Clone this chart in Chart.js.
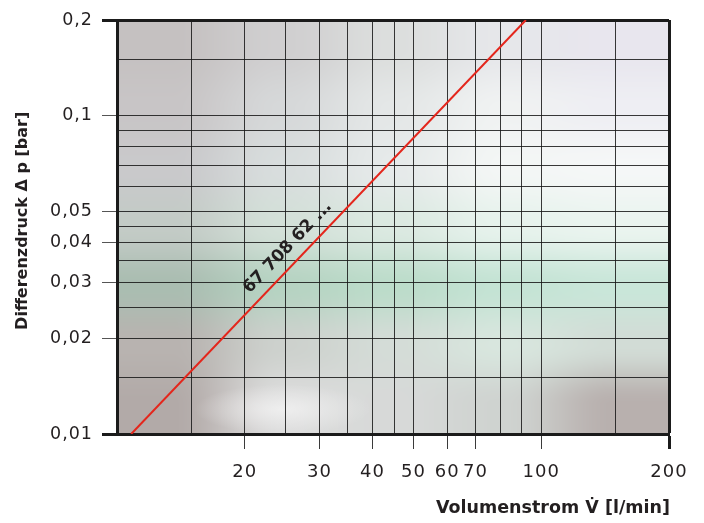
<!DOCTYPE html>
<html>
<head>
<meta charset="utf-8">
<script src="https://cdn.jsdelivr.net/npm/chart.js@4/dist/chart.umd.min.js"></script>
<style>
  html, body { margin: 0; padding: 0; background: #ffffff; }
  #wrap { width: 704px; height: 523px; }
</style>
</head>
<body>
<div id="wrap"><canvas id="c" width="704" height="523"></canvas></div>
<script>
// ---- data ----
const flowValues = [10.8, 92];          // Volumenstrom [l/min]
const pressureValues = [0.01, 0.2];     // Differenzdruck [bar]
const seriesLabel = '67 708 62 ...';
const xGridValues = [10, 15, 20, 25, 30, 35, 40, 45, 50, 60, 70, 80, 90, 100, 150, 200];
const xLabelValues = [20, 30, 40, 50, 60, 70, 100, 200];
const yGridValues = [0.01, 0.015, 0.02, 0.025, 0.03, 0.035, 0.04, 0.045, 0.05, 0.06, 0.07, 0.08, 0.09, 0.1, 0.15, 0.2];
const yLabelValues = [0.01, 0.02, 0.03, 0.04, 0.05, 0.1, 0.2];
const xTitle = 'Volumenstrom V\u0307 [l/min]';
const yTitle = 'Differenzdruck \u0394 p [bar]';

// ---- styling ----
const FONT = "'DejaVu Sans', Verdana, sans-serif";
const TEXT = '#231f20';
const FRAME = '#1b1b1b';
const GRID = 'rgba(22,22,22,0.85)';
// photo-like backdrop, a coarse colour grid (rows top->bottom, cols left->right), smoothly interpolated
const BACKDROP = [
  ['#c5c1c1', '#d0cfd0', '#dcdedd', '#e6e7ea', '#e8e6ee'],
  ['#c8c5c6', '#d6d8d9', '#e4e7e7', '#f0f2f2', '#eeeef3'],
  ['#c9c9cb', '#d8dddd', '#e6eaea', '#f3f6f5', '#f5f7f7'],
  ['#c3cbc6', '#d3e0d8', '#dbe9e1', '#e6f2ec', '#eaf4ef'],
  ['#aabdb1', '#b6d3c2', '#bcdcca', '#c4e3d4', '#c9e6d9'],
  ['#b8b3b0', '#cdd1cd', '#d4dcd7', '#d8e6de', '#d2dcd6'],
  ['#b2aaa8', '#dcdcdc', '#d7d9d8', '#cfd3d0', '#b8b0ae']
];

const fmt = v => String(v).replace('.', ',');
const near = (a, b) => Math.abs(Math.log(a) - Math.log(b)) < 1e-6;
const inList = (list, v) => list.some(u => near(u, v));

let backdropCache = null;
function getBackdrop(w, h) {
  if (backdropCache && backdropCache.width === w && backdropCache.height === h) return backdropCache;
  const rows = BACKDROP.length, cols = BACKDROP[0].length;
  const rgb = BACKDROP.map(r => r.map(hx => [1, 3, 5].map(i => parseInt(hx.slice(i, i + 2), 16))));
  const c = document.createElement('canvas');
  c.width = w; c.height = h;
  const g = c.getContext('2d');
  const img = g.createImageData(w, h);
  const smooth = t => t * t * (3 - 2 * t);
  for (let y = 0; y < h; y++) {
    let fy = Math.min(rows - 1, Math.max(0, (y + 0.5) / h * rows - 0.5));
    const r0 = Math.floor(fy), r1 = Math.min(rows - 1, r0 + 1), ty = smooth(fy - r0);
    for (let x = 0; x < w; x++) {
      let fx = Math.min(cols - 1, Math.max(0, (x + 0.5) / w * cols - 0.5));
      const c0 = Math.floor(fx), c1 = Math.min(cols - 1, c0 + 1), tx = smooth(fx - c0);
      const o = (y * w + x) * 4;
      for (let k = 0; k < 3; k++) {
        const top = rgb[r0][c0][k] * (1 - tx) + rgb[r0][c1][k] * tx;
        const bot = rgb[r1][c0][k] * (1 - tx) + rgb[r1][c1][k] * tx;
        img.data[o + k] = Math.round(top * (1 - ty) + bot * ty);
      }
      img.data[o + 3] = 255;
    }
  }
  g.putImageData(img, 0, 0);
  backdropCache = c;
  return c;
}

function drawBackground(ctx, a) {
  const L = a.left, T = a.top, W = Math.round(a.right - a.left), H = Math.round(a.bottom - a.top);
  ctx.save();
  ctx.beginPath(); ctx.rect(L, T, W, H); ctx.clip();
  ctx.drawImage(getBackdrop(W, H), L, T);
  // soft light patch in the lower band
  ctx.translate(L + 0.3 * W, T + 0.94 * H);
  ctx.scale(1, 0.28);
  const g = ctx.createRadialGradient(0, 0, 0, 0, 0, 0.16 * W);
  g.addColorStop(0, 'rgba(246,246,246,0.7)');
  g.addColorStop(1, 'rgba(246,246,246,0)');
  ctx.fillStyle = g; ctx.fillRect(-0.3 * W, -0.8 * W, 0.6 * W, 1.6 * W);
  ctx.restore();
}

const backgroundPlugin = {
  id: 'photoBackground',
  beforeDraw(chart) {
    const ctx = chart.ctx;
    if ('letterSpacing' in ctx) ctx.letterSpacing = '1px';
    drawBackground(ctx, chart.chartArea);
  }
};

function spaced(ctx, px) { if ('letterSpacing' in ctx) ctx.letterSpacing = px; }

const textPlugin = {
  id: 'extraText',
  afterDatasetsDraw(chart) {
    const ctx = chart.ctx;
    const pts = chart.getDatasetMeta(0).data;
    const p0 = pts[0], p1 = pts[pts.length - 1];
    const ang = Math.atan2(p1.y - p0.y, p1.x - p0.x);
    const t = 0.425, off = 15.5;
    const cx = p0.x + (p1.x - p0.x) * t + Math.sin(ang) * off;
    const cy = p0.y + (p1.y - p0.y) * t - Math.cos(ang) * off;
    ctx.save();
    spaced(ctx, '0px');
    ctx.translate(cx, cy);
    ctx.rotate(ang);
    ctx.font = "bold 17px " + FONT;
    ctx.fillStyle = TEXT;
    ctx.textAlign = 'center';
    ctx.textBaseline = 'middle';
    ctx.fillText(chart.data.datasets[0].label, 0, 0);
    ctx.restore();
  },
  afterDraw(chart) {
    const ctx = chart.ctx;
    const a = chart.chartArea;
    ctx.save();
    spaced(ctx, '0px');
    ctx.fillStyle = TEXT;
    // x axis title, right aligned with the plot frame
    ctx.font = "bold 17.5px " + FONT;
    ctx.textAlign = 'right';
    ctx.textBaseline = 'alphabetic';
    ctx.fillText(xTitle, a.right + 1, 513);
    // y axis title, rotated
    ctx.translate(27, a.top + (a.bottom - a.top) * 0.485);
    ctx.rotate(-Math.PI / 2);
    ctx.font = "bold 16px " + FONT;
    ctx.textAlign = 'center';
    ctx.fillText(yTitle, 0, 0);
    ctx.restore();
  }
};

const ctx = document.getElementById('c').getContext('2d');
new Chart(ctx, {
  type: 'scatter',
  data: {
    datasets: [{
      label: seriesLabel,
      data: flowValues.map((x, i) => ({ x: x, y: pressureValues[i] })),
      showLine: true,
      borderColor: '#e4261c',
      borderWidth: 2,
      pointRadius: 0,
      fill: false,
      tension: 0
    }]
  },
  options: {
    responsive: false,
    animation: false,
    devicePixelRatio: 1,
    layout: { padding: { left: 0, top: 20, right: 35, bottom: 0 } },
    plugins: { legend: { display: false }, tooltip: { enabled: false } },
    scales: {
      x: {
        type: 'logarithmic',
        position: 'bottom',
        min: 10, max: 200,
        afterBuildTicks: s => { s.ticks = xGridValues.map(v => ({ value: v })); },
        afterFit: s => { s.height = 89; },
        grid: {
          color: c => near(c.tick.value, 200) ? FRAME : GRID,
          lineWidth: c => near(c.tick.value, 200) ? 3 : 1,
          tickLength: 15,
          tickColor: c => inList(xLabelValues, c.tick.value) ? (near(c.tick.value, 200) ? FRAME : '#3a3a3a') : 'rgba(0,0,0,0)',
          tickWidth: c => near(c.tick.value, 200) ? 3 : 1
        },
        border: { display: true, color: FRAME, width: 3 },
        ticks: {
          autoSkip: false, maxRotation: 0, padding: 13,
          color: TEXT,
          font: { family: FONT, size: 18 },
          callback: v => inList(xLabelValues, v) ? fmt(v) : ''
        },
        title: { display: false, text: xTitle }
      },
      y: {
        type: 'logarithmic',
        position: 'left',
        min: 0.01, max: 0.2,
        afterBuildTicks: s => { s.ticks = yGridValues.map(v => ({ value: v })); },
        afterFit: s => { s.width = 117; },
        grid: {
          color: c => near(c.tick.value, 0.2) ? FRAME : GRID,
          lineWidth: c => near(c.tick.value, 0.2) ? 3 : 1,
          tickLength: 15,
          tickColor: c => inList(yLabelValues, c.tick.value) ? ((near(c.tick.value, 0.2) || near(c.tick.value, 0.01)) ? FRAME : '#555555') : 'rgba(0,0,0,0)',
          tickWidth: c => (near(c.tick.value, 0.2) || near(c.tick.value, 0.01)) ? 3 : 1
        },
        border: { display: true, color: FRAME, width: 3 },
        ticks: {
          autoSkip: false, padding: 9,
          color: TEXT,
          font: { family: FONT, size: 17.5 },
          callback: v => inList(yLabelValues, v) ? fmt(v) : ''
        },
        title: { display: false, text: yTitle }
      }
    }
  },
  plugins: [backgroundPlugin, textPlugin]
});
</script>
</body>
</html>
